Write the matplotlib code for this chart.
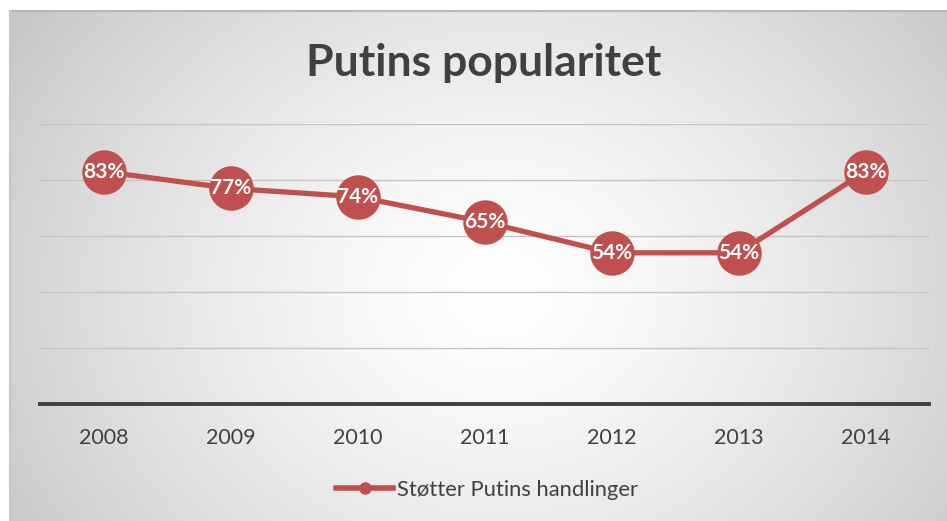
import numpy as np
import matplotlib
matplotlib.use("Agg")
import matplotlib.pyplot as plt
from matplotlib.lines import Line2D

years = ["2008", "2009", "2010", "2011", "2012", "2013", "2014"]
support = [83, 77, 74, 65, 54, 54, 83]
series_name = "Støtter Putins handlinger"
title = "Putins popularitet"

RED = "#C0504D"
DARK = "#404040"
FONT = ["Lato", "DejaVu Sans"]

W, H = 947, 521
fig = plt.figure(figsize=(W / 100, H / 100), dpi=100)
fig.patch.set_facecolor("white")

# radial gradient background
bg = fig.add_axes([10 / W, 0, 1 - 10 / W, 1 - 11 / H])
bg.set_axis_off()
ny, nx = 300, 540
yy, xx = np.mgrid[0:ny, 0:nx]
cx, cy = nx * 0.52, ny * 0.55
r = np.sqrt(((xx - cx) / (nx * 0.62)) ** 2 + ((yy - cy) / (ny * 0.95)) ** 2)
r = np.clip(r, 0, 1)
val = 1.0 - 0.22 * r ** 1.4
img = np.dstack([val, val, val])
bg.imshow(img, aspect="auto", extent=[0, 1, 0, 1], interpolation="bilinear")
bg.set_xlim(0, 1)
bg.set_ylim(0, 1)
bg.plot([0, 1], [1, 1], color="#b8b8b8", lw=1.5, transform=bg.transAxes, clip_on=False)
bg.plot([0, 0], [0, 1], color="#c8c8c8", lw=1.5, transform=bg.transAxes, clip_on=False)

ax = fig.add_axes([40 / W, 1 - 404 / H, (929 - 40) / W, (404 - 124) / H])
ax.set_facecolor("none")
x = np.arange(len(years))
ax.set_xlim(-0.5, len(years) - 0.5)
ax.set_ylim(0, 100)
for g in [20, 40, 60, 80, 100]:
    ax.axhline(g, color="#c4c4c4", lw=1.0, zorder=1)
ax.axhline(0, color=DARK, lw=2.8, zorder=2, clip_on=False)
for s in ax.spines.values():
    s.set_visible(False)
ax.set_yticks([])
ax.set_xticks(x)
ax.set_xticklabels(years, fontsize=15.5, color=DARK, fontfamily=FONT)
ax.tick_params(axis="x", length=0, pad=17)

ax.plot(x, support, color=RED, lw=3.8, marker="o", ms=31, zorder=3, clip_on=False)
for xi, v in zip(x, support):
    ax.text(xi, v, f"{v}%", ha="center", va="center", color="white",
            fontsize=15, fontweight="bold", fontfamily=FONT, zorder=4)

fig.text(483.5 / W, 1 - 63 / H, title, ha="center", va="center",
         fontsize=32, fontweight="bold", color=DARK, fontfamily=FONT)

proxy = Line2D([], [], color=RED, lw=4, marker="o", ms=8)
leg = fig.legend([proxy], [series_name], loc="center", bbox_to_anchor=(487 / W, 1 - 490 / H),
                 frameon=False, handlelength=2.6, handletextpad=0.15,
                 prop={"family": FONT, "size": 15.8})
for t in leg.get_texts():
    t.set_color(DARK)

fig.savefig("out.png", dpi=100)
